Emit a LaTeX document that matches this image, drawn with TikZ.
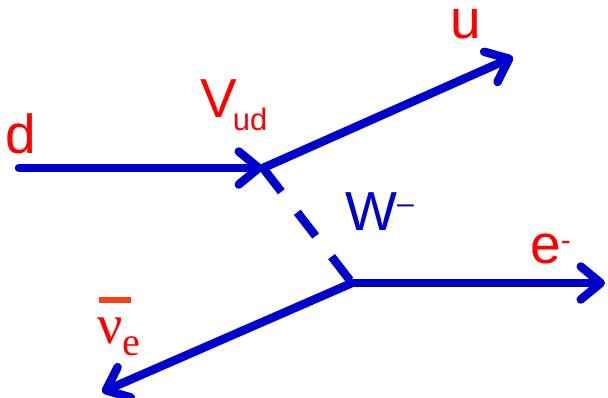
\documentclass[tikz,border=0pt]{standalone}
\usepackage{fontspec}
\setmainfont{Liberation Sans}
\newfontfamily\serifgr{Liberation Serif}
\usetikzlibrary{arrows.meta}
\definecolor{lineblue}{RGB}{0,0,204}
\definecolor{labred}{RGB}{255,0,0}
\definecolor{barred}{RGB}{255,60,20}
\tikzset{
  fermion/.style={draw=lineblue, line width=8.5pt, line cap=round,
    -{Straight Barb[length=20pt,width=33pt,round]}},
  boson/.style={draw=lineblue, line width=8.5pt, line cap=butt, dash pattern=on 30pt off 26pt},
  lab/.style={inner sep=0pt, anchor=base west, font=\fontsize{55}{55}\selectfont},
}
\begin{document}
\begin{tikzpicture}[x=1pt,y=-1pt]
\useasboundingbox (0,0) rectangle (608,397);
\coordinate (din) at (19,168);
\coordinate (v1) at (263,168);
\coordinate (uout) at (513,57);
\coordinate (v2) at (352,283);
\coordinate (eout) at (605,283);
\coordinate (nuout) at (102,392);
\draw[boson] (v1) -- (v2);
\draw[fermion] (din) -- (v1);
\draw[fermion] (v1) -- (uout);
\draw[fermion] (v2) -- (eout);
\draw[fermion] (v2) -- (nuout);
\node[lab, text=labred] (dlab) at (5,153) {d};
\node[lab, text=labred] (vlab) at (200,117) {V\kern-4pt\raisebox{-13pt}{\fontsize{31}{31}\selectfont ud}};
\node[lab, text=labred, text height=30pt] (ulab) at (450,38) {u};
\node[lab, text=lineblue] (wlab) at (345,230) {W\raisebox{17pt}{\fontsize{30}{30}\selectfont –}};
\node[lab, text=labred] (elab) at (530,263) {e\raisebox{13pt}{\fontsize{30}{30}\selectfont -}};
\node[lab, text=labred, font=\serifgr\fontsize{56}{56}\selectfont] (nulab) at (97,343) {ν\raisebox{-12pt}{\fontsize{40}{40}\selectfont e}};
\fill[barred] (99,297) rectangle (131,303);
\end{tikzpicture}
\end{document}
